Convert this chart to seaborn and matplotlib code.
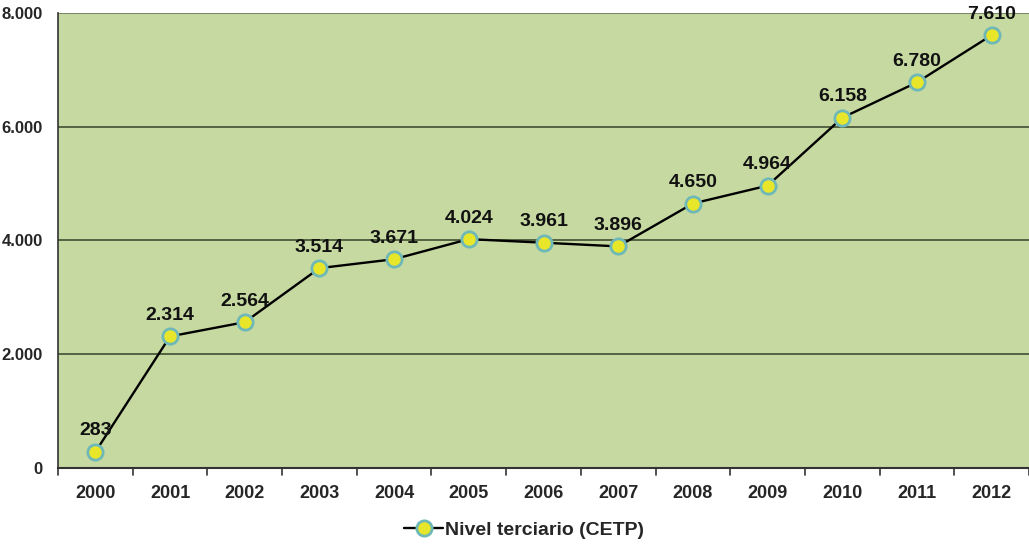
import pandas as pd
import matplotlib.pyplot as plt
import seaborn as sns

# Datos
anios = ["2000", "2001", "2002", "2003", "2004", "2005", "2006",
         "2007", "2008", "2009", "2010", "2011", "2012"]
inscriptos = [283, 2314, 2564, 3514, 3671, 4024, 3961,
              3896, 4650, 4964, 6158, 6780, 7610]
etiquetas = ["283", "2.314", "2.564", "3.514", "3.671", "4.024", "3.961",
             "3.896", "4.650", "4.964", "6.158", "6.780", "7.610"]
serie = "Nivel terciario (CETP)"

df = pd.DataFrame({"anio": anios, "valor": inscriptos})
df["pos"] = range(len(df))

sns.set_theme(style="white")
plt.rcParams["font.family"] = ["Liberation Sans", "DejaVu Sans"]
plt.rcParams["font.stretch"] = "normal"

fig = plt.figure(figsize=(10.29, 5.45), dpi=100)
ax = fig.add_axes([0.0564, 0.1413, 0.9436, 0.8349])
ax.set_facecolor("#c6d9a1")

sns.lineplot(data=df, x="pos", y="valor", ax=ax, color="black", linewidth=1.7,
             marker="o", markersize=11, markerfacecolor="#e8e62a",
             markeredgecolor="#6fb8b8", markeredgewidth=2.0, label=serie,
             zorder=3)

for x, y, t in zip(df["pos"], df["valor"], etiquetas):
    ax.annotate(t, (x, y), xytext=(0, 9), textcoords="offset points",
                ha="center", va="bottom", fontsize=14, fontweight="bold",
                color="#111111", zorder=4)

ax.set_xlim(-0.5, len(anios) - 0.5)
ax.set_ylim(0, 8000)
ax.set_yticks([0, 2000, 4000, 6000, 8000])
ax.set_yticklabels(["0", "2.000", "4.000", "6.000", "8.000"],
                   fontsize=12, fontweight="bold", fontstretch="normal")
ax.set_xticks(df["pos"])
ax.set_xticklabels(anios, fontsize=13, fontweight="bold")
ax.tick_params(axis="x", length=0, pad=12)
ax.tick_params(axis="y", length=0, pad=11)

# marcas entre categorías
for b in range(len(anios) + 1):
    ax.plot([b - 0.5, b - 0.5], [0, -120], color="#333333", lw=1.2,
            clip_on=False)

ax.grid(False)
for g in [2000, 4000, 6000]:
    ax.axhline(g, color="#4b5a3c", lw=1.3, zorder=1)

for side in ["top", "right"]:
    ax.spines[side].set_visible(False)
ax.spines["left"].set_color("#333333")
ax.spines["bottom"].set_color("#333333")
ax.spines["left"].set_linewidth(1.2)
ax.spines["bottom"].set_linewidth(1.5)
ax.axhline(8000, color="#7a8a6a", lw=1.5, zorder=1)

ax.set_xlabel("")
ax.set_ylabel("")

leg = ax.legend(loc="center", bbox_to_anchor=(0.48, -0.137), frameon=False,
                handlelength=2.0, handletextpad=0.1,
                prop={"size": 14, "weight": "bold"})

fig.savefig("out.png", dpi=100)
plt.close(fig)
